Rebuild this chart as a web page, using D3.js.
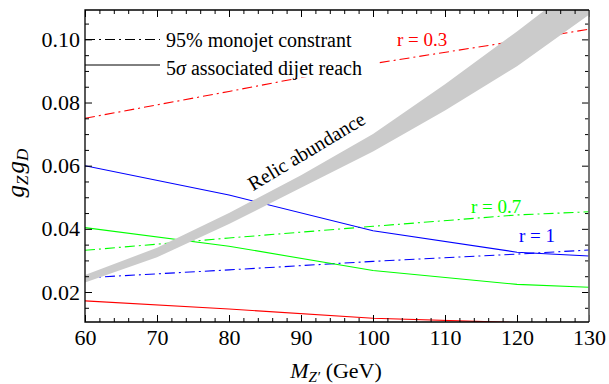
<!DOCTYPE html>
<html><head><meta charset="utf-8">
<script src="https://cdn.jsdelivr.net/npm/d3@7"></script>
<style>
body{margin:0;background:#fff}
</style>
</head><body>
<svg id="c" width="609" height="384"></svg>
<script>
// ---- data ----
const masses = [60, 80, 100, 120, 130];
const monoR03 = [0.0750, 0.0835, 0.0923, 0.0995, 0.1032];
const monoR07 = [0.0332, 0.0371, 0.0408, 0.0444, 0.0454];
const monoR1  = [0.0245, 0.0270, 0.0297, 0.0320, 0.0333];
const dijetR03 = [0.0172, 0.0146, 0.0117, 0.0103, 0.0097];
const dijetR07 = [0.0404, 0.0345, 0.0268, 0.0224, 0.0215];
const dijetR1  = [0.0600, 0.0507, 0.0394, 0.0326, 0.0314];
const relicMass  = [60, 70, 80, 90, 100, 110, 120, 130];
const relicUpper = [0.0254, 0.0340, 0.0450, 0.0570, 0.0700, 0.0858, 0.1025, 0.1200];
const relicLower = [0.0230, 0.0310, 0.0415, 0.0530, 0.0645, 0.0775, 0.0915, 0.1078];
const xTicks = [60, 70, 80, 90, 100, 110, 120, 130];
const yTicks = [0.02, 0.04, 0.06, 0.08, 0.10];
const yTickLabels = ["0.02", "0.04", "0.06", "0.08", "0.10"];
const seriesLabels = ["r = 0.3", "r = 0.7", "r = 1"];
const legendLabels = ["95% monojet constrant", "associated dijet reach"];

// ---- layout ----
const FONT = "Liberation Serif";
const L = 85, R = 589, T = 10, B = 322;
const svg = d3.select("#c");
const x = d3.scaleLinear().domain([60, 130]).range([L, R]);
const y = d3.scaleLinear().domain([0.0105, 0.1093]).range([B, T]);

svg.append("defs").append("clipPath").attr("id", "clip")
  .append("rect").attr("x", L).attr("y", T).attr("width", R - L).attr("height", B - T);
const plot = svg.append("g").attr("clip-path", "url(#clip)");

const line = d3.line().x(d => x(d[0])).y(d => y(d[1]));
const series = [
  {v: monoR03, c: "#ff0000", dash: true},
  {v: monoR07, c: "#00ff00", dash: true},
  {v: monoR1,  c: "#0000ff", dash: true},
  {v: dijetR03, c: "#ff0000", dash: false},
  {v: dijetR07, c: "#00ff00", dash: false},
  {v: dijetR1,  c: "#0000ff", dash: false}
];
series.forEach(s => {
  plot.append("path").datum(masses.map((m, i) => [m, s.v[i]]))
    .attr("d", line).attr("fill", "none").attr("stroke", s.c)
    .attr("stroke-width", 1.1)
    .attr("stroke-dasharray", s.dash ? "10,4,2,4" : null);
});

// relic band (drawn over the lines)
const band = relicMass.map((m, i) => ({m, lo: relicLower[i], hi: relicUpper[i]}));
plot.append("path").datum(band)
  .attr("d", d3.area().x(d => x(d.m)).y0(d => y(d.lo)).y1(d => y(d.hi)))
  .attr("fill", "#cbcbcb");

function txt(parent, size) {
  return parent.append("text").attr("font-size", size).style("font-family", FONT).style("fill", "#000");
}

// legend (white box hides lines behind)
svg.append("rect").attr("x", L + 1).attr("y", 22).attr("width", 376 - L - 1).attr("height", 55.5).attr("fill", "#fff");
svg.append("line").attr("x1", L).attr("x2", 160).attr("y1", 39.5).attr("y2", 39.5)
  .attr("stroke", "#000").attr("stroke-width", 1).attr("stroke-dasharray", "10,4,2,4");
svg.append("line").attr("x1", L).attr("x2", 160).attr("y1", 65).attr("y2", 65)
  .attr("stroke", "#000").attr("stroke-width", 1);
txt(svg, 20).attr("x", 166).attr("y", 47).text(legendLabels[0]);
const l2 = txt(svg, 20).attr("x", 166).attr("y", 75);
l2.append("tspan").text("5");
l2.append("tspan").style("font-style", "italic").text("σ");
l2.append("tspan").text(" " + legendLabels[1]);

// series labels
txt(svg, 19).attr("x", 397).attr("y", 46).style("fill", "#ff0000").text(seriesLabels[0]);
txt(svg, 19).attr("x", 471).attr("y", 213).style("fill", "#00ff00").text(seriesLabels[1]);
txt(svg, 19).attr("x", 519).attr("y", 242).style("fill", "#0000ff").text(seriesLabels[2]);

// relic label
txt(svg, 20).attr("transform", "translate(310,157) rotate(-31)")
  .attr("text-anchor", "middle").text("Relic abundance");

// ---- axes (inward ticks on all sides) ----
const xMinor = d3.range(60, 131, 2).filter(v => v % 10 !== 0);
const yMinor = d3.range(0.015, 0.1093, 0.005).map(v => +v.toFixed(3)).filter(v => Math.round(v * 1000) % 20 !== 0);
function styleAxis(g) {
  g.attr("font-family", FONT).attr("font-size", 22);
  g.select(".domain").remove();
  g.selectAll("line").attr("stroke", "#000");
  g.selectAll("text").style("font-family", FONT).style("font-size", "22px").style("fill", "#000");
}
svg.append("g").attr("transform", `translate(0,${B})`)
  .call(d3.axisBottom(x).tickValues(xTicks).tickFormat(d3.format("d")).tickSize(-7).tickPadding(7.5)).call(styleAxis);
svg.append("g").attr("transform", `translate(0,${B})`)
  .call(d3.axisBottom(x).tickValues(xMinor).tickFormat("").tickSize(-4)).call(styleAxis);
svg.append("g").attr("transform", `translate(0,${T})`)
  .call(d3.axisTop(x).tickValues(xTicks).tickFormat("").tickSize(-7)).call(styleAxis);
svg.append("g").attr("transform", `translate(0,${T})`)
  .call(d3.axisTop(x).tickValues(xMinor).tickFormat("").tickSize(-4)).call(styleAxis);
svg.append("g").attr("transform", `translate(${L},0)`)
  .call(d3.axisLeft(y).tickValues(yTicks).tickFormat((d, i) => yTickLabels[i]).tickSize(-7).tickPadding(5)).call(styleAxis);
svg.append("g").attr("transform", `translate(${L},0)`)
  .call(d3.axisLeft(y).tickValues(yMinor).tickFormat("").tickSize(-4)).call(styleAxis);
svg.append("g").attr("transform", `translate(${R},0)`)
  .call(d3.axisRight(y).tickValues(yTicks).tickFormat("").tickSize(-7)).call(styleAxis);
svg.append("g").attr("transform", `translate(${R},0)`)
  .call(d3.axisRight(y).tickValues(yMinor).tickFormat("").tickSize(-4)).call(styleAxis);

// frame
svg.append("path").attr("d", `M${R},${B}V${T}`).attr("stroke", "#666").attr("stroke-width", 1.8).attr("fill", "none");
svg.append("path").attr("d", `M${R},${T}H${L}V${B}H${R}`).attr("stroke", "#000").attr("stroke-width", 1.3).attr("fill", "none");

// axis titles
const xt = txt(svg, 22).attr("x", 336).attr("y", 378).attr("text-anchor", "middle");
xt.append("tspan").style("font-style", "italic").text("M");
xt.append("tspan").style("font-style", "italic").attr("font-size", 15).attr("dy", 4).text("Z′");
xt.append("tspan").attr("dy", -4).text(" (GeV)");

const yt = txt(svg, 25).attr("transform", "translate(24,173) rotate(-90)").attr("text-anchor", "middle");
yt.append("tspan").style("font-style", "italic").text("g");
yt.append("tspan").style("font-style", "italic").attr("font-size", 17).attr("dy", 4).text("Z");
yt.append("tspan").style("font-style", "italic").attr("dx", 2).attr("dy", -4).text("g");
yt.append("tspan").style("font-style", "italic").attr("font-size", 17).attr("dy", 4).text("D");
</script>
</body></html>
